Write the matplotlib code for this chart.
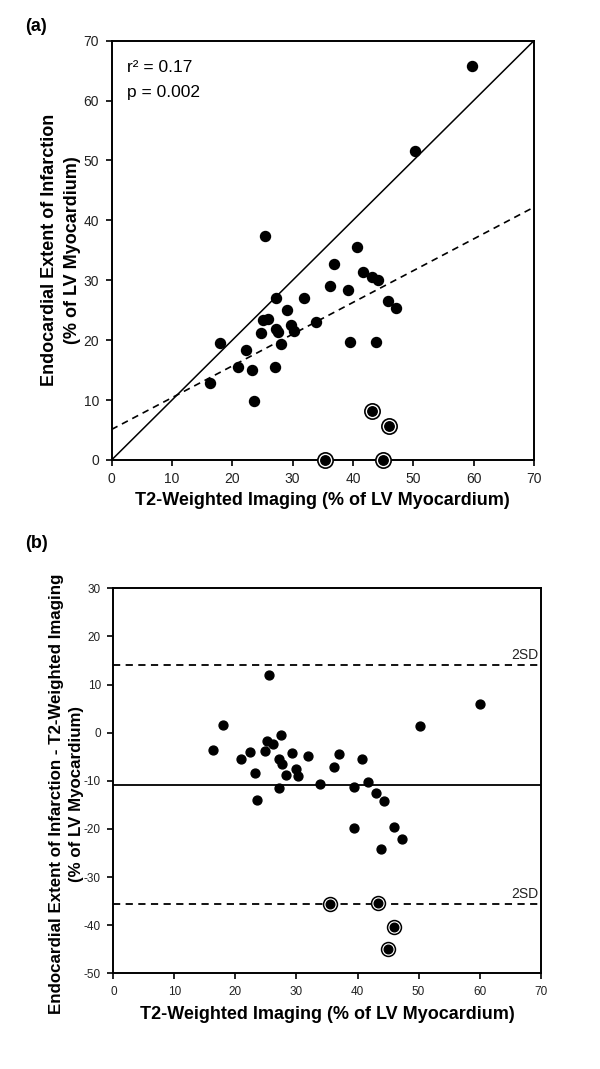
import numpy as np
import matplotlib
matplotlib.use("Agg")
import matplotlib.pyplot as plt

# ======================= DONNEES =======================
# (a) T2 vs endocardial extent
t2_a = [25.4, 17.9, 16.3, 22.3, 20.9, 23.2, 23.6, 24.8, 25.1, 26.0, 27.3, 27.3,
        27.5, 27.1, 28.0, 29.1, 29.8, 30.2, 31.9, 33.9, 36.2, 36.9, 39.2, 39.5,
        40.7, 41.6, 43.2, 44.1, 43.8, 45.8, 47.1, 59.8, 50.2]
endo_a = [37.4, 19.5, 12.9, 18.4, 15.6, 15.0, 9.8, 21.2, 23.3, 23.6, 27.0, 21.9,
          21.3, 15.6, 19.3, 25.1, 22.6, 21.5, 27.0, 23.1, 29.0, 32.7, 28.3, 19.7,
          35.5, 31.3, 30.5, 30.0, 19.7, 26.5, 25.3, 65.8, 51.5]
t2_a_circ = [43.2, 45.9, 35.4, 45.0]
endo_a_circ = [8.1, 5.7, 0.0, 0.0]
reg_intercept = 5.1
reg_slope = 0.53

# (b) Bland-Altman
t2_b = [25.5, 18.0, 16.3, 20.9, 22.4, 23.2, 23.6, 24.8, 25.2, 26.1, 27.5, 27.2,
        27.6, 28.2, 27.1, 29.2, 30.0, 30.2, 31.9, 33.9, 36.2, 37.0, 39.5, 40.8,
        41.8, 43.1, 44.3, 50.2, 60.0, 39.5, 46.0, 47.3, 43.8]
diff_b = [12.0, 1.5, -3.5, -5.4, -4.0, -8.3, -13.9, -3.9, -1.8, -2.4, -0.4, -5.5,
          -6.5, -8.8, -11.6, -4.2, -7.5, -8.9, -4.9, -10.7, -7.1, -4.4, -11.2, -5.4,
          -10.2, -12.5, -14.3, 1.4, 5.9, -19.9, -19.6, -22.1, -24.1]
t2_b_circ = [35.5, 43.3, 46.0, 45.0]
diff_b_circ = [-35.6, -35.3, -40.3, -45.0]
mean_diff = -10.8
upper_2sd = 14.0
lower_2sd = -35.6

XLABEL = "T2-Weighted Imaging (% of LV Myocardium)"

plt.rcParams['font.family'] = ['Liberation Sans', 'DejaVu Sans']
plt.rcParams['axes.unicode_minus'] = False

fig = plt.figure(figsize=(6, 10.69), dpi=100)
ax1 = fig.add_axes([0.186, 0.5697, 0.704, 0.3923])
ax2 = fig.add_axes([0.189, 0.0895, 0.712, 0.3602])


def style_axes(ax, tick_size, pad):
    for s in ax.spines.values():
        s.set_linewidth(1.4)
    ax.tick_params(direction='out', length=4, width=1.2, labelsize=tick_size,
                   colors='black', labelcolor='#222222', pad=pad)


# ---------- (a) ----------
ax1.axline((0, 0), slope=1, color='black', lw=1.1)
ax1.axline((0, reg_intercept), slope=reg_slope, color='black', lw=1.2,
           dashes=(4, 3))
ax1.plot(t2_a, endo_a, 'o', color='black', ms=7.2, clip_on=False, zorder=3)
ax1.plot(t2_a_circ, endo_a_circ, 'o', mfc='white', mec='black', mew=1.2,
         ms=11, clip_on=False, zorder=3)
ax1.plot(t2_a_circ, endo_a_circ, 'o', color='black', ms=6.8, clip_on=False, zorder=4)
ax1.set_xlim(0, 70)
ax1.set_ylim(0, 70)
ax1.set_xticks(range(0, 71, 10))
ax1.set_yticks(range(0, 71, 10))
style_axes(ax1, 10, 5)
ax1.set_xlabel(XLABEL, fontsize=13, fontweight='bold', labelpad=4)
ax1.set_ylabel("Endocardial Extent of Infarction\n(% of LV Myocardium)",
               fontsize=13, fontweight='bold', linespacing=1.45)
ax1.yaxis.set_label_coords(-0.072, 0.5)
ax1.text(0.037, 0.935, "r² = 0.17", transform=ax1.transAxes, fontsize=12.5,
         va='center', ha='left')
ax1.text(0.037, 0.877, "p = 0.002", transform=ax1.transAxes, fontsize=12.5,
         va='center', ha='left')

# ---------- (b) ----------
ax2.axhline(mean_diff, color='black', lw=1.3)
ax2.axhline(upper_2sd, color='black', lw=1.3, dashes=(4, 3))
ax2.axhline(lower_2sd, color='black', lw=1.3, dashes=(4, 3))
ax2.plot(t2_b, diff_b, 'o', color='black', ms=6.4, zorder=3)
ax2.plot(t2_b_circ, diff_b_circ, 'o', mfc='white', mec='black', mew=1.1,
         ms=10, zorder=3)
ax2.plot(t2_b_circ, diff_b_circ, 'o', color='black', ms=6.2, zorder=4)
ax2.text(69.7, upper_2sd + 1.3, "2SD", fontsize=10, ha='right', va='baseline',
         color='#222222')
ax2.text(69.7, lower_2sd + 1.3, "2SD", fontsize=10, ha='right', va='baseline',
         color='#222222')
ax2.set_xlim(0, 70)
ax2.set_ylim(-50, 30)
ax2.set_xticks(range(0, 71, 10))
ax2.set_yticks(range(-50, 31, 10))
style_axes(ax2, 8.5, 5)
ax2.set_xlabel(XLABEL, fontsize=13, fontweight='bold', labelpad=6)
ax2.set_ylabel("Endocardial Extent of Infarction - T2-Weighted Imaging\n(% of LV Myocardium)",
               fontsize=12.2, fontweight='bold', linespacing=1.45)
ax2.yaxis.set_label_coords(-0.068, 0.466)

fig.text(0.042, 0.975, "(a)", fontsize=13, fontweight='bold', va='center')
fig.text(0.042, 0.492, "(b)", fontsize=13, fontweight='bold', va='center')

fig.savefig("out.png", dpi=100)
